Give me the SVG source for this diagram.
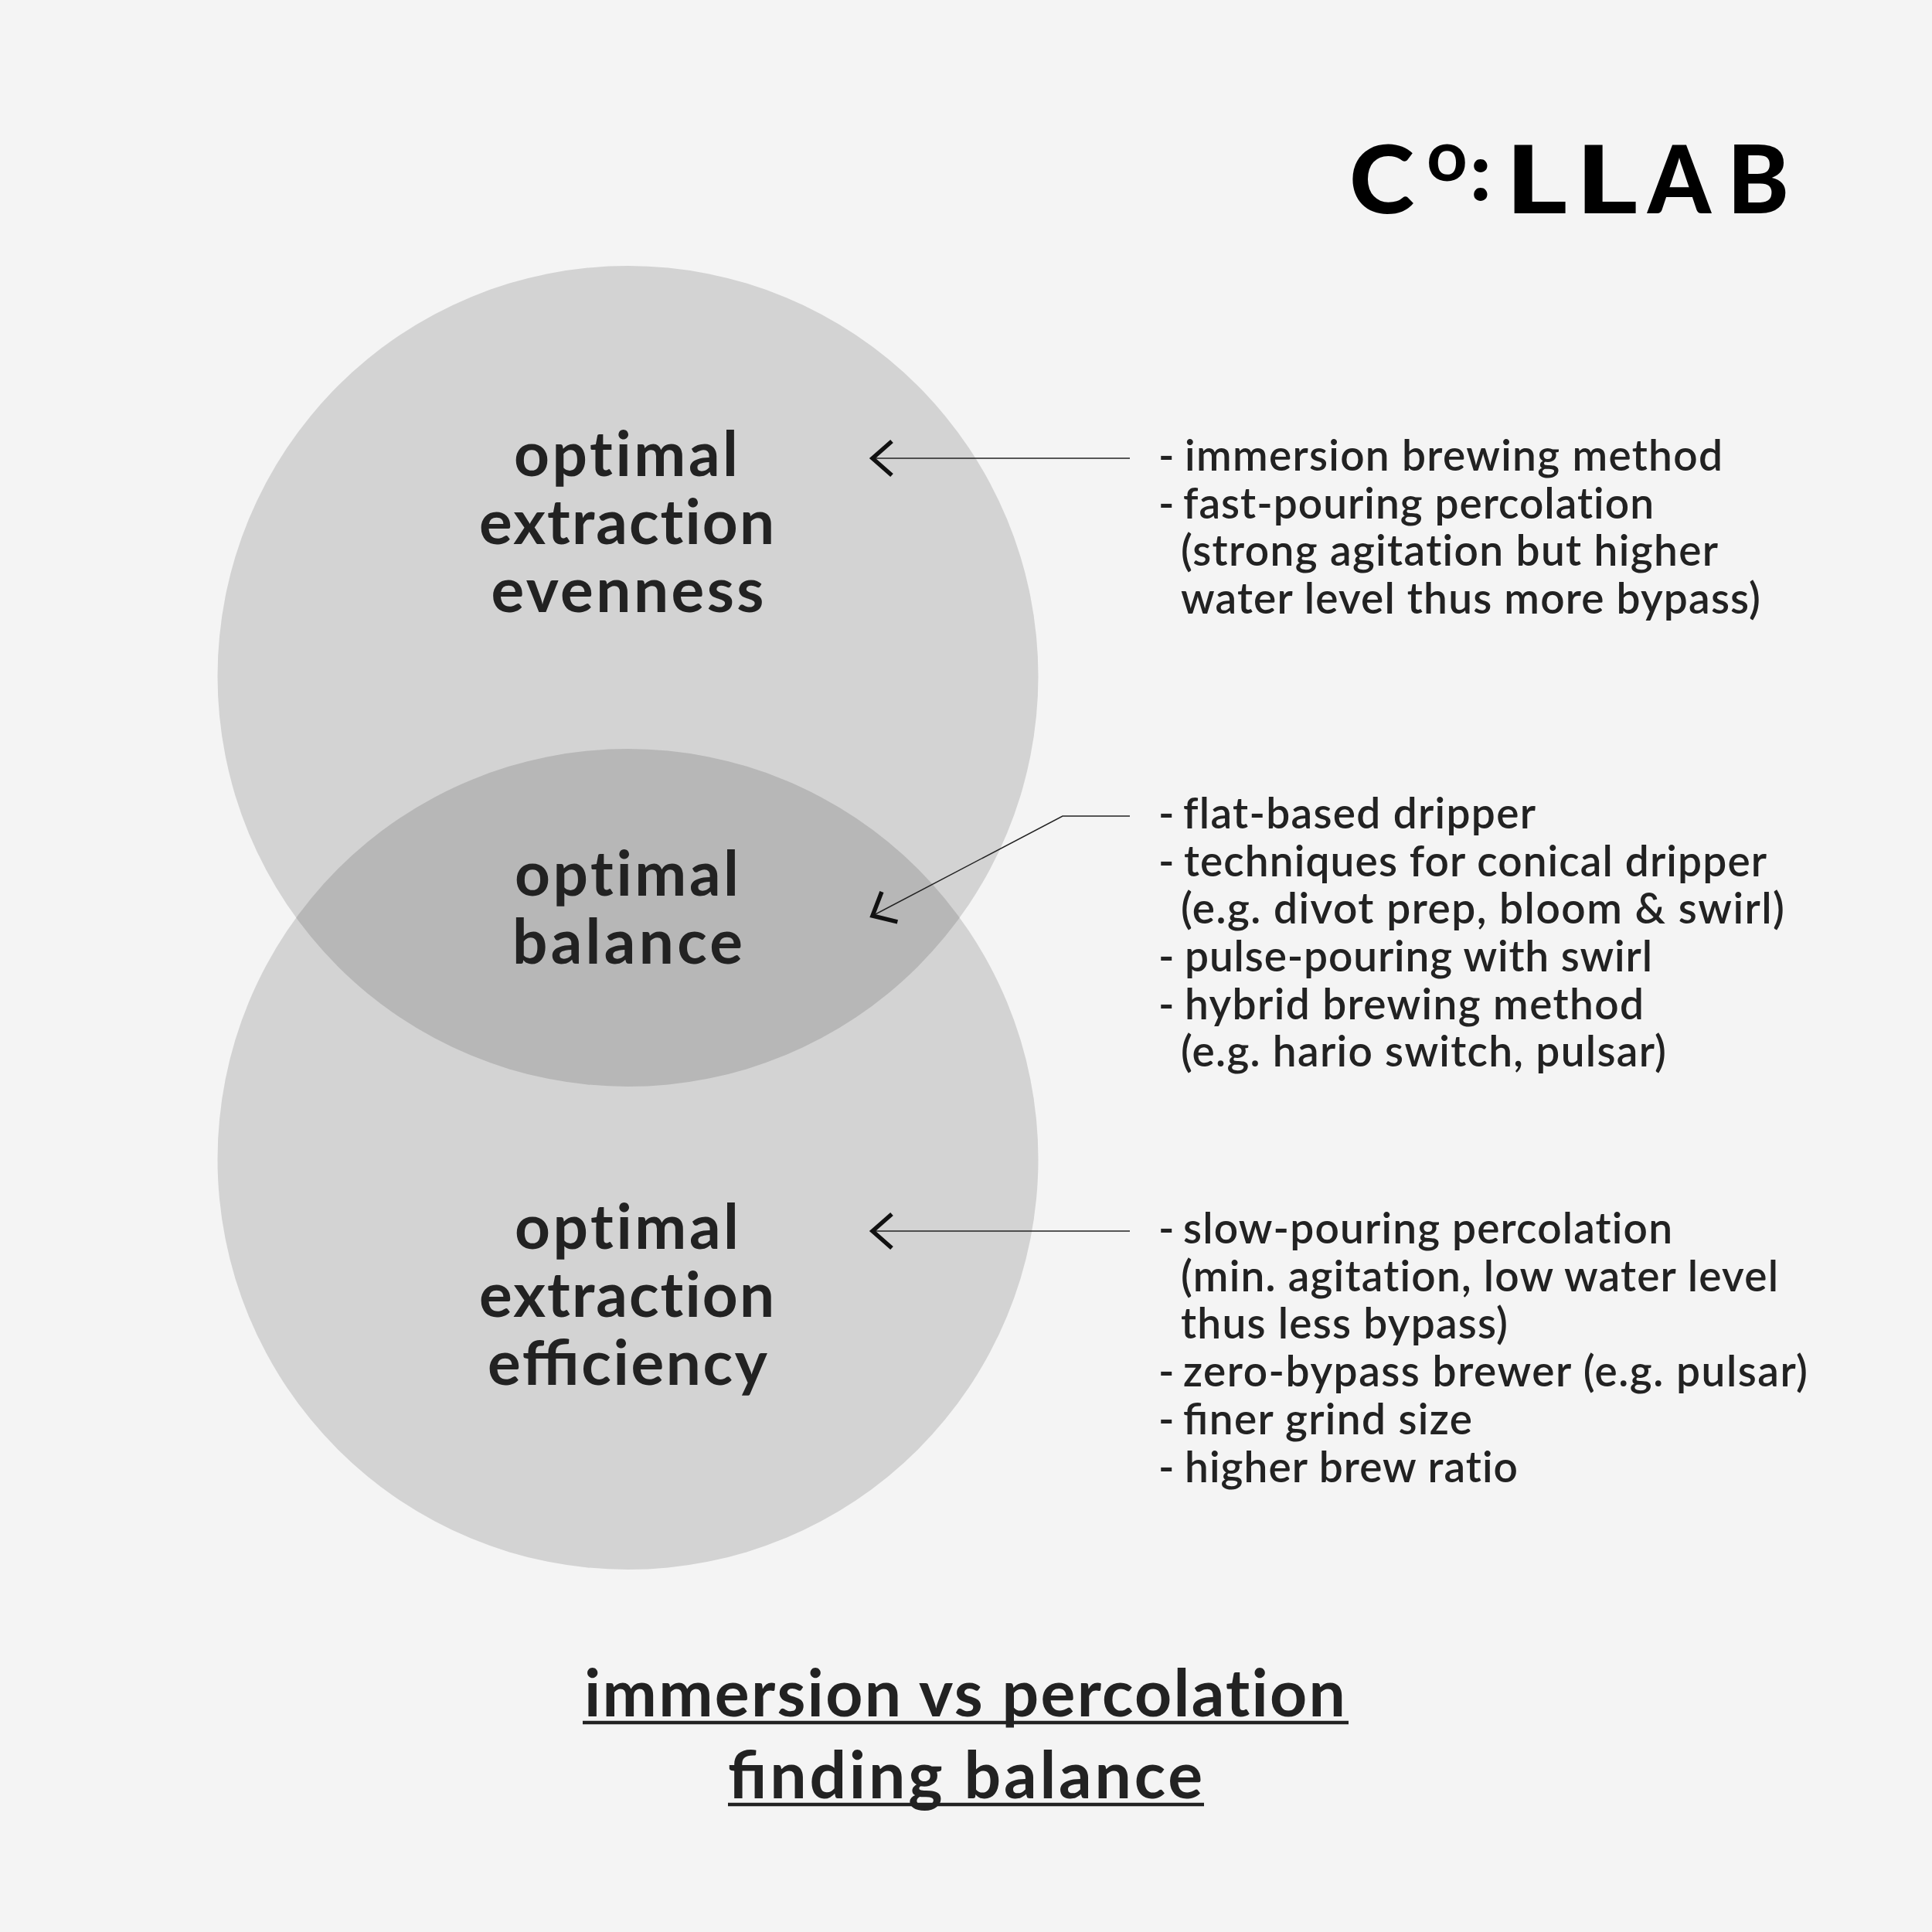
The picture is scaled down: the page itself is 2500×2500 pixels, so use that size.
<svg xmlns="http://www.w3.org/2000/svg" width="2500" height="2500" viewBox="0 0 2500 2500">
<style>
text{font-family:"Lato","Liberation Sans",sans-serif;fill:#222;font-variant-ligatures:none}
.c{fill:#d3d3d3}
.o{fill:#b7b7b7}
.h{font-size:80px;font-weight:700;text-anchor:middle}
.b{font-size:55px;font-weight:600}
.t{font-size:84px;font-weight:700}
.l{font-size:122px;font-weight:900;fill:#000}
.u{stroke:#222;stroke-width:4.5}
.a{fill:none;stroke:#222;stroke-width:1.5;marker-end:url(#chev)}
</style>
<defs>
<clipPath id="topClip"><circle cx="812.5" cy="875" r="531"/></clipPath>
<marker id="chev" markerUnits="userSpaceOnUse" markerWidth="60" markerHeight="60" refX="30" refY="30" orient="auto" overflow="visible"><path d="M5,8 L30,30 L5,52" fill="none" stroke="#111" stroke-width="5.5"/></marker>
</defs>
<rect width="2500" height="2500" fill="#f4f4f4"/>
<g id="venn">
<circle id="circle-top" class="c" cx="812.5" cy="875" r="531"/>
<circle id="circle-bottom" class="c" cx="812.5" cy="1500" r="531"/>
<circle id="overlap" class="o" cx="812.5" cy="1500" r="531" clip-path="url(#topClip)"/>
</g>
<g id="logo">
<text class="l" x="1746" y="276" textLength="84" lengthAdjust="spacingAndGlyphs">C</text>
<text class="l" x="1846" y="234" style="font-size:92px;font-weight:700">o</text>
<text class="l" x="1902" y="259" style="font-size:106px">:</text>
<text class="l" x="1948" y="276" textLength="80" lengthAdjust="spacingAndGlyphs">L</text>
<text class="l" x="2039" y="276" textLength="80" lengthAdjust="spacingAndGlyphs">L</text>
<text class="l" x="2132" y="276" textLength="82" lengthAdjust="spacingAndGlyphs">A</text>
<text class="l" x="2235" y="276" textLength="80" lengthAdjust="spacingAndGlyphs">B</text>
</g>
<g id="node-evenness">
<text class="h" x="810" y="616" textLength="290">optimal</text>
<text class="h" x="811" y="704" textLength="382">extraction</text>
<text class="h" x="812" y="792" textLength="353">evenness</text>
</g>
<g id="node-balance">
<text class="h" x="811" y="1159" textLength="290">optimal</text>
<text class="h" x="812" y="1247" textLength="298">balance</text>
</g>
<g id="node-efficiency">
<text class="h" x="811" y="1616" textLength="290">optimal</text>
<text class="h" x="811" y="1704" textLength="382">extraction</text>
<text class="h" x="812" y="1792" textLength="362" style="font-variant-ligatures:common-ligatures">efficiency</text>
</g>
<g id="connectors">
<path class="a" d="M1462,593 H1129"/>
<path class="a" d="M1462,1056 H1375 L1129,1185"/>
<path class="a" d="M1462,1593 H1129"/>
</g>
<g id="list-immersion">
<text class="b" x="1499" y="609">- <tspan x="1533" textLength="696">immersion brewing method</tspan></text>
<text class="b" x="1499" y="671">- <tspan x="1531" textLength="609">fast-pouring percolation</tspan></text>
<text class="b" x="1528" y="732" textLength="695">(strong agitation but higher</text>
<text class="b" x="1528" y="794" textLength="750">water level thus more bypass)</text>
</g>
<g id="list-balance">
<text class="b" x="1499" y="1072">- <tspan x="1531" textLength="456">flat-based dripper</tspan></text>
<text class="b" x="1499" y="1134">- <tspan x="1532" textLength="754">techniques for conical dripper</tspan></text>
<text class="b" x="1528" y="1195" textLength="781">(e.g. divot prep, bloom &amp; swirl)</text>
<text class="b" x="1499" y="1257">- <tspan x="1533" textLength="605">pulse-pouring with swirl</tspan></text>
<text class="b" x="1499" y="1319">- <tspan x="1533" textLength="594">hybrid brewing method</tspan></text>
<text class="b" x="1528" y="1380" textLength="628">(e.g. hario switch, pulsar)</text>
</g>
<g id="list-percolation">
<text class="b" x="1499" y="1609">- <tspan x="1531" textLength="633">slow-pouring percolation</tspan></text>
<text class="b" x="1528" y="1671" textLength="773">(min. agitation, low water level</text>
<text class="b" x="1528" y="1732" textLength="423">thus less bypass)</text>
<text class="b" x="1499" y="1794">- <tspan x="1531" textLength="808">zero-bypass brewer (e.g. pulsar)</tspan></text>
<text class="b" x="1499" y="1856">- <tspan x="1531" textLength="374" style="font-variant-ligatures:common-ligatures">finer grind size</tspan></text>
<text class="b" x="1499" y="1918">- <tspan x="1533" textLength="431">higher brew ratio</tspan></text>
</g>
<g id="title">
<text class="t" x="756" y="2221" textLength="985">immersion vs percolation</text>
<line class="u" x1="754" y1="2229" x2="1745" y2="2229"/>
<text class="t" x="942" y="2327" textLength="614" style="font-variant-ligatures:common-ligatures">finding balance</text>
<line class="u" x1="942" y1="2335" x2="1558" y2="2335"/>
</g>
</svg>
